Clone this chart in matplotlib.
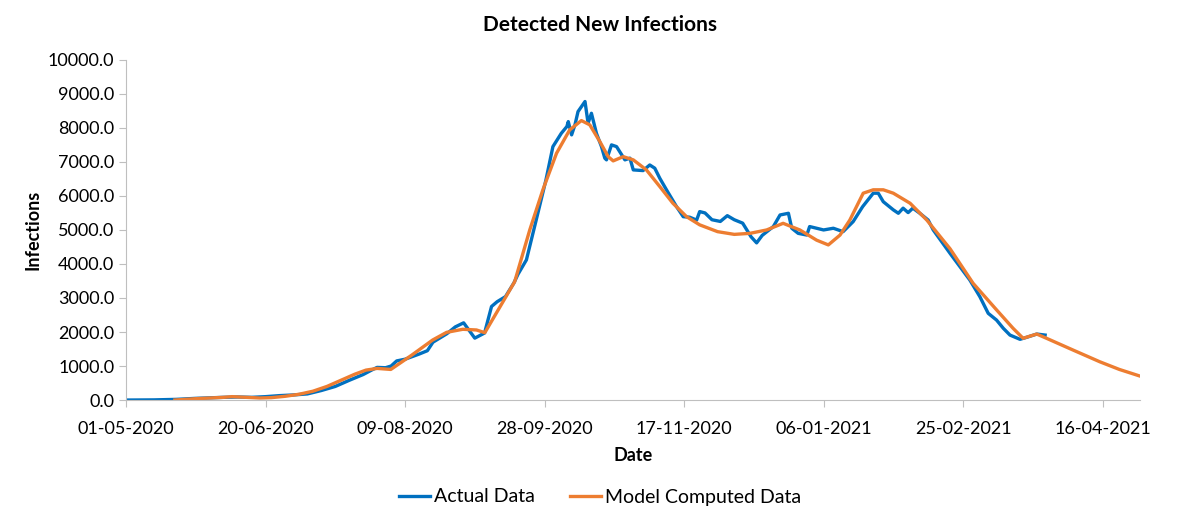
import numpy as np
import pandas as pd
import matplotlib
matplotlib.use("Agg")
import matplotlib.pyplot as plt
import matplotlib.dates as mdates

plt.rcParams["font.family"] = ["Lato", "DejaVu Sans"]

START = pd.Timestamp("2020-05-01")

# Actual data: days since 01-05-2020 and infections
actual_days = [0, 10, 18, 25, 35, 40, 45, 50, 55, 60, 65, 70, 75, 80, 85, 88, 90, 93, 95, 97,
               100, 105, 108, 110, 115, 118, 121, 125, 128.5, 131, 133, 136, 139, 140.5, 143.5,
               147, 150.5, 153, 156, 158, 158.5, 159.7, 160.9, 162, 164.5, 165.6, 166.8, 168.6,
               170.4, 171.6, 172.2, 174, 175.8, 178.8, 180.6, 181.8, 185.3, 187.7, 189.5, 191.3,
               193.7, 197.3, 199.7, 202, 204.5, 205.6, 207.5, 210, 213, 215.5, 218, 221, 224,
               226, 228, 232, 234.4, 237.4, 238.6, 240.9, 244, 245, 250, 253.5, 257, 260.6, 264,
               267.8, 269.6, 271.4, 275, 276.8, 278.5, 280.3, 282, 284.5, 287.5, 289.3, 295.3,
               302.4, 306, 309, 312, 314.4, 316.8, 320.4, 322.8, 326.4, 329.4]
actual_vals = [0, 5, 20, 50, 80, 90, 80, 100, 130, 150, 180, 280, 400, 580, 750, 880, 960, 950,
               1000, 1150, 1200, 1350, 1450, 1700, 1950, 2150, 2270, 1820, 1970, 2750, 2890, 3040,
               3440, 3700, 4120, 5290, 6470, 7450, 7840, 8040, 8185, 7795, 8090, 8480, 8775, 8140,
               8430, 7840, 7450, 7110, 7060, 7500, 7450, 7060, 7110, 6765, 6745, 6910, 6815, 6520,
               6180, 5685, 5390, 5375, 5290, 5540, 5500, 5300, 5250, 5420, 5300, 5200, 4800, 4620,
               4840, 5100, 5440, 5490, 5050, 4900, 4850, 5100, 5000, 5050, 4950, 5245, 5685, 6080,
               6080, 5830, 5590, 5490, 5640, 5510, 5640, 5490, 5290, 5000, 4315, 3530, 3040, 2550,
               2350, 2110, 1910, 1785, 1845, 1940, 1910]

# Model computed data
model_days = [17.5, 25, 30, 35, 38, 43, 48, 52, 57, 62, 67, 72, 77, 82, 86, 90, 94.9, 102.4,
              109.9, 114.9, 120.7, 125.6, 128.6, 135.1, 139.3, 144.7, 149.4, 154.3, 159, 163.2,
              166.2, 169.8, 172.8, 174.6, 178.2, 181.8, 186.5, 191.3, 196, 200.9, 205.6, 212,
              218, 223.6, 229.6, 235.5, 241.5, 247.5, 251.7, 255.9, 259.4, 264.2, 267.8, 271.4,
              275, 281, 287, 295.3, 303.6, 312, 317.9, 321.5, 326.4, 329.9, 339.4, 349, 356, 363]
model_vals = [0, 40, 60, 80, 100, 80, 60, 70, 110, 170, 260, 400, 580, 760, 880, 930, 900, 1320,
              1765, 1990, 2080, 2060, 1980, 2890, 3480, 5000, 6180, 7255, 7940, 8215, 8090, 7600,
              7155, 7030, 7155, 7060, 6765, 6275, 5785, 5390, 5150, 4950, 4870, 4900, 5000, 5195,
              5000, 4700, 4560, 4850, 5290, 6080, 6180, 6180, 6080, 5785, 5290, 4450, 3430, 2650,
              2110, 1815, 1940, 1815, 1470, 1125, 900, 715]

actual_dates = START + pd.to_timedelta(actual_days, unit="D")
model_dates = START + pd.to_timedelta(model_days, unit="D")

fig = plt.figure(figsize=(12, 5.25), dpi=100)
ax = fig.add_axes([0.105, 0.238, 0.845, 0.648])

ax.plot(actual_dates, actual_vals, color="#0070C0", lw=2.4, label="Actual Data",
        solid_joinstyle="round")
ax.plot(model_dates, model_vals, color="#ED7D31", lw=2.4, label="Model Computed Data",
        solid_joinstyle="round")

ax.set_xlim(START, START + pd.Timedelta(days=363.4))
ax.set_ylim(0, 10000)
ax.set_yticks(np.arange(0, 10001, 1000))
ax.yaxis.set_major_formatter(matplotlib.ticker.FormatStrFormatter("%.1f"))
ax.set_xticks([START + pd.Timedelta(days=50 * i) for i in range(8)])
ax.xaxis.set_major_formatter(mdates.DateFormatter("%d-%m-%Y"))

for side in ["top", "right"]:
    ax.spines[side].set_visible(False)
for side in ["left", "bottom"]:
    ax.spines[side].set_color("#bfbfbf")
ax.tick_params(axis="both", colors="#bfbfbf", labelcolor="black", labelsize=13, length=5)
ax.tick_params(axis="x", pad=10)

ax.set_xlabel("Date", fontsize=13, fontweight="bold")
ax.set_ylabel("Infections", fontsize=13, fontweight="bold")
ax.xaxis.set_label_coords(0.5, -0.137)
ax.yaxis.set_label_coords(-0.083, 0.5)

fig.text(0.5, 1 - 25 / 525, "Detected New Infections", ha="center", va="center",
         fontsize=15, fontweight="bold")

fig.legend(loc="center", bbox_to_anchor=(0.5, 1 - 497 / 525), ncol=2, frameon=False,
           fontsize=14, handlelength=1.6, columnspacing=1.8, handletextpad=0.2)

fig.savefig("out.png", dpi=100)
